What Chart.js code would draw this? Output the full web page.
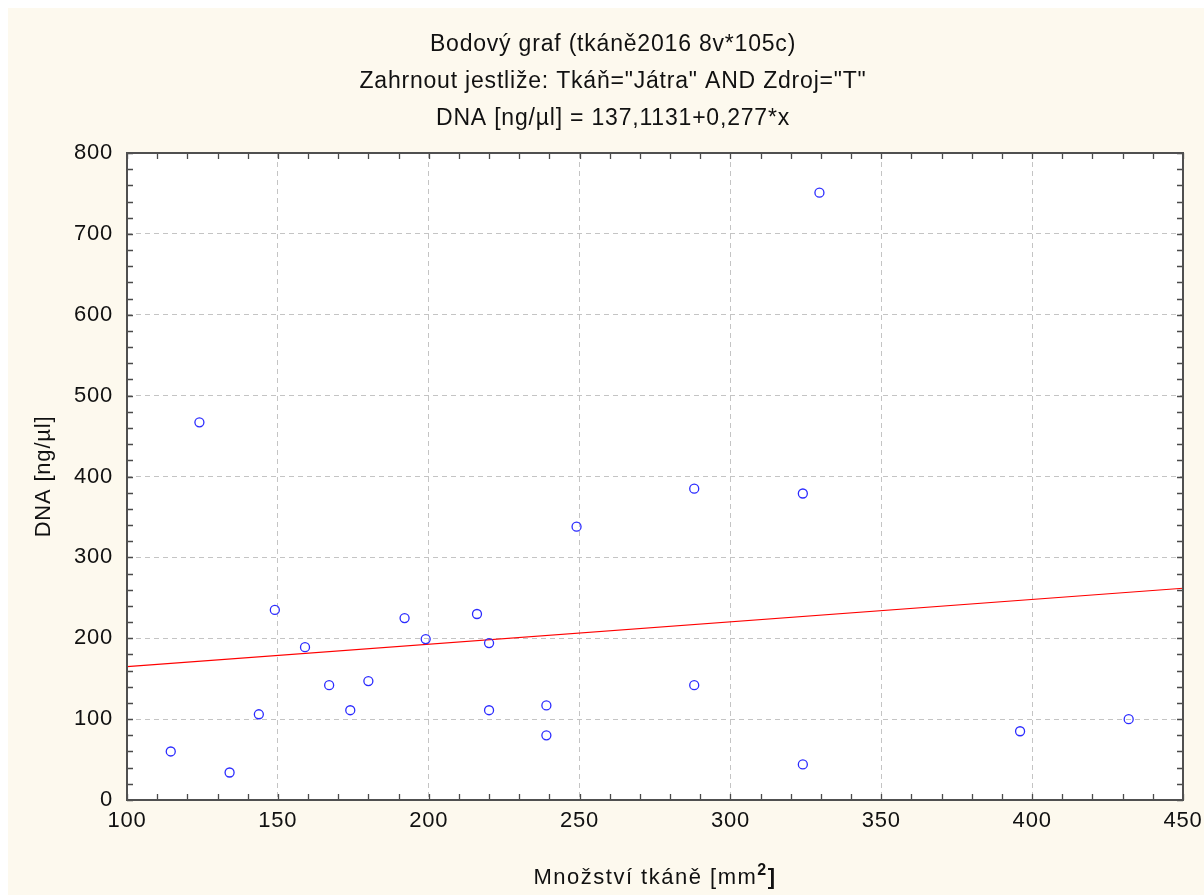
<!DOCTYPE html>
<html>
<head>
<meta charset="utf-8">
<script src="https://cdn.jsdelivr.net/npm/chart.js@4"></script>
<style>
  html, body { margin: 0; padding: 0; background: #fff; }
  #obal { width: 1204px; height: 895px; }
</style>
</head>
<body>
<div id="obal"><canvas id="graf" width="1204" height="895"></canvas></div>
<script>
// Data
const plochaTkane = [114.5, 124, 134, 143.7, 149, 159, 167, 174, 180, 192, 199, 216, 220, 220, 239, 239, 249, 288, 288, 324, 324, 329.5, 396, 432];
const dnaHodnoty = [60, 467, 34, 106, 235, 189, 142, 111, 147, 225, 199, 230, 194, 111, 117, 80, 338, 385, 142, 379, 44, 751, 85, 100];

// Regresní přímka DNA = 137,1131 + 0,277*x (krajní body)
const primkaX = [100, 450];
const primkaY = [164.8, 261.8];

const nadpisy = [
  "Bodový graf (tkáně2016 8v*105c)",
  "Zahrnout jestliže: Tkáň=\"Játra\" AND Zdroj=\"T\"",
  "DNA [ng/µl] = 137,1131+0,277*x"
];
// popisek osy X: text, horní index, závorka
const popisX = ["Množství tkáně [mm", "2", "]"];
const popisY = "DNA [ng/µl]";

const pismo = "'Liberation Sans', Arial, sans-serif";

// Statistica má trochu roztažené písmo
const rozestup = {
  id: "rozestup",
  beforeUpdate(chart) { chart.ctx.letterSpacing = "0.8px"; },
  beforeDraw(chart) { chart.ctx.letterSpacing = "0.8px"; }
};

// Pozadí: bílý okraj, krémová plocha, bílá vykreslovací oblast
const pozadi = {
  id: "pozadi",
  beforeDraw(chart) {
    const { ctx, chartArea } = chart;
    ctx.save();
    ctx.fillStyle = "#ffffff";
    ctx.fillRect(0, 0, chart.width, chart.height);
    ctx.fillStyle = "#fdf9ee";
    ctx.fillRect(8, 8, chart.width - 8, chart.height - 8);
    ctx.fillStyle = "#ffffff";
    ctx.fillRect(chartArea.left, chartArea.top, chartArea.right - chartArea.left, chartArea.bottom - chartArea.top);
    ctx.restore();
  }
};

// Rámeček, vnitřní značky os a popisek osy X s horním indexem
const ramecek = {
  id: "ramecek",
  afterDatasetsDraw(chart) {
    const { ctx, chartArea, scales } = chart;
    const { left, right, top, bottom } = chartArea;
    ctx.save();
    ctx.strokeStyle = "#4a4a4a";
    ctx.lineWidth = 1.3;
    ctx.beginPath();
    for (let v = 100; v <= 450; v += 10) {
      const px = Math.round(scales.x.getPixelForValue(v)) + 0.5;
      ctx.moveTo(px, bottom); ctx.lineTo(px, bottom - 6);
      ctx.moveTo(px, top); ctx.lineTo(px, top + 6);
    }
    for (let v = 0; v <= 800; v += 20) {
      const py = Math.round(scales.y.getPixelForValue(v)) + 0.5;
      ctx.moveTo(left, py); ctx.lineTo(left + 6, py);
      ctx.moveTo(right, py); ctx.lineTo(right - 6, py);
    }
    ctx.stroke();
    ctx.lineWidth = 2;
    ctx.strokeStyle = "#505050";
    ctx.strokeRect(left, top, right - left, bottom - top);
    ctx.restore();
  },
  afterDraw(chart) {
    const { ctx, chartArea } = chart;
    ctx.save();
    ctx.letterSpacing = "1.5px";
    ctx.fillStyle = "#111";
    ctx.textBaseline = "alphabetic";
    ctx.textAlign = "left";
    const fonty = ["22px " + pismo, "bold 16px " + pismo, "bold 22px " + pismo];
    const posun = [0, -9, 0];
    const sirky = popisX.map((t, i) => { ctx.font = fonty[i]; return ctx.measureText(t).width; });
    const celkem = sirky.reduce((a, b) => a + b, 0);
    let x = (chartArea.left + chartArea.right) / 2 - celkem / 2;
    const y = 884;
    popisX.forEach((t, i) => {
      ctx.font = fonty[i];
      ctx.fillText(t, x, y + posun[i]);
      x += sirky[i];
    });
    ctx.restore();
  }
};

const body = plochaTkane.map((x, i) => ({ x: x, y: dnaHodnoty[i] }));
const primka = primkaX.map((x, i) => ({ x: x, y: primkaY[i] }));

new Chart(document.getElementById("graf").getContext("2d"), {
  type: "scatter",
  data: {
    datasets: [
      {
        label: "DNA",
        data: body,
        pointStyle: "circle",
        pointRadius: 4.5,
        pointHoverRadius: 4.5,
        borderColor: "#2b2bff",
        backgroundColor: "rgba(0,0,0,0)",
        borderWidth: 1.3
      },
      {
        label: "Regrese",
        type: "line",
        data: primka,
        borderColor: "#ff0000",
        borderWidth: 1.2,
        pointRadius: 0,
        fill: false
      }
    ]
  },
  options: {
    responsive: false,
    animation: false,
    layout: { padding: { left: 43, right: 21, top: 0, bottom: 0 } },
    plugins: {
      legend: { display: false },
      tooltip: { enabled: false },
      title: {
        display: true,
        text: nadpisy,
        color: "#111",
        font: { family: pismo, size: 23, weight: "normal", lineHeight: 1.6 },
        padding: { top: 26.6, bottom: 16 }
      }
    },
    scales: {
      x: {
        type: "linear",
        min: 100,
        max: 450,
        afterFit(s) { s.height = 95; s.paddingLeft = 0; s.paddingRight = 0; },
        ticks: { stepSize: 50, color: "#111", padding: 8, font: { family: pismo, size: 22 } },
        grid: { color: "#c4c4c4", lineWidth: 1, drawTicks: false },
        border: { display: false, dash: [5, 4] },
        title: { display: false }
      },
      y: {
        type: "linear",
        min: 0,
        max: 800,
        afterFit(s) { s.width = 84; s.paddingTop = 0; s.paddingBottom = 0; },
        ticks: { stepSize: 100, color: "#111", padding: 14, font: { family: pismo, size: 22 } },
        grid: { color: "#c4c4c4", lineWidth: 1, drawTicks: false },
        border: { display: false, dash: [5, 4] },
        title: {
          display: true,
          text: popisY,
          color: "#111",
          font: { family: pismo, size: 22 },
          padding: { top: -12, bottom: 0 }
        }
      }
    }
  },
  plugins: [rozestup, pozadi, ramecek]
});
</script>
</body>
</html>
